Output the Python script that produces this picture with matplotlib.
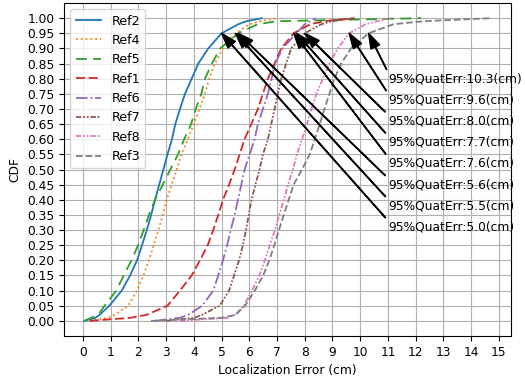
import numpy as np
import matplotlib
matplotlib.use("Agg")
import matplotlib.pyplot as plt

levels = [0.0, 0.01, 0.02, 0.05, 0.10, 0.15, 0.20, 0.25, 0.30, 0.35, 0.40, 0.45,
          0.50, 0.55, 0.60, 0.65, 0.70, 0.75, 0.80, 0.85, 0.90, 0.95, 0.98, 0.99, 1.0]

# localization error (cm) at each level
ref2 = [0.05, 0.45, 0.6, 0.95, 1.4, 1.7, 1.95, 2.13, 2.3, 2.46, 2.6, 2.75,
        2.9, 3.05, 3.21, 3.33, 3.5, 3.68, 3.92, 4.16, 4.52, 5.0, 5.6, 5.9, 6.45]
ref4 = [0.25, 0.9, 1.15, 1.63, 1.95, 2.18, 2.38, 2.55, 2.72, 2.88, 3.02, 3.2,
        3.38, 3.55, 3.78, 4.0, 4.2, 4.4, 4.55, 4.75, 5.05, 5.5, 6.0, 6.4, 7.0]
ref5 = [0.05, 0.3, 0.55, 0.78, 1.2, 1.47, 1.75, 1.99, 2.19, 2.38, 2.6, 2.88,
        3.15, 3.43, 3.65, 3.9, 4.07, 4.27, 4.4, 4.65, 4.95, 5.6, 6.3, 7.0, 12.2]
ref1 = [0.25, 1.7, 2.3, 3.05, 3.5, 3.92, 4.22, 4.5, 4.7, 4.88, 5.05, 5.27,
        5.47, 5.65, 5.83, 6.07, 6.31, 6.49, 6.67, 6.91, 7.15, 7.6, 8.2, 8.7, 9.8]
ref6 = [2.6, 3.5, 3.8, 4.3, 4.7, 4.88, 5.05, 5.2, 5.33, 5.47, 5.59, 5.71,
        5.83, 6.01, 6.19, 6.31, 6.49, 6.67, 6.8, 6.93, 7.2, 7.7, 8.0, 8.2, 8.4]
ref7 = [3.0, 4.0, 4.3, 4.93, 5.27, 5.45, 5.63, 5.77, 5.88, 5.98, 6.08, 6.22,
        6.37, 6.49, 6.67, 6.79, 6.91, 7.03, 7.15, 7.33, 7.51, 8.0, 8.6, 9.0, 9.8]
ref8 = [3.5, 5.2, 5.5, 5.8, 6.1, 6.36, 6.56, 6.74, 6.92, 7.08, 7.25, 7.4,
        7.57, 7.72, 7.9, 8.08, 8.24, 8.42, 8.65, 8.89, 9.19, 9.6, 10.2, 10.6, 11.1]
ref3 = [2.45, 5.0, 5.5, 5.85, 6.2, 6.5, 6.72, 6.9, 7.07, 7.24, 7.42, 7.6,
        7.9, 8.18, 8.36, 8.54, 8.71, 8.89, 9.07, 9.31, 9.67, 10.3, 11.2, 12.3, 14.7]

names = ["Ref2", "Ref4", "Ref5", "Ref1", "Ref6", "Ref7", "Ref8", "Ref3"]
series = [ref2, ref4, ref5, ref1, ref6, ref7, ref8, ref3]
styles = [
    dict(color="#1f77b4", linestyle="-"),
    dict(color="#ff7f0e", linestyle=":"),
    dict(color="#2ca02c", dashes=(6, 3.5)),
    dict(color="#d62728", dashes=(5, 2)),
    dict(color="#9467bd", linestyle="-."),
    dict(color="#8c564b", dashes=(3, 1, 1, 1, 1, 1)),
    dict(color="#e377c2", dashes=(3, 1, 1, 1, 1, 1)),
    dict(color="#7f7f7f", linestyle="--"),
]

# 95% errors, listed top to bottom as in the annotations
p95_vals = [10.3, 9.6, 8.0, 7.7, 7.6, 5.6, 5.5, 5.0]

plt.rcParams["font.size"] = 8.8

fig = plt.figure(figsize=(5.25, 3.79), dpi=100)
ax = fig.add_axes([0.122, 0.1135, 0.851, 0.8785])

for name, xs, st in zip(names, series, styles):
    ax.plot(xs, levels, label=name, linewidth=1.3, **st)

for i, v in enumerate(p95_vals):
    ax.annotate("95%QuatErr:{:.1f}(cm)".format(v), xy=(v, 0.95),
                xytext=(11.0, 0.80 - 0.07 * i), va="center",
                arrowprops=dict(facecolor="black", width=0.4,
                                headwidth=7, headlength=11))

ax.set_xticks(np.arange(0, 16, 1))
ax.set_yticks(np.arange(0, 1.01, 0.05))
ax.grid(True)
ax.set_xlabel("Localization Error (cm)")
ax.set_ylabel("CDF")
ax.legend(loc="upper left", fontsize=9.2)

fig.savefig("out.png", dpi=100)
